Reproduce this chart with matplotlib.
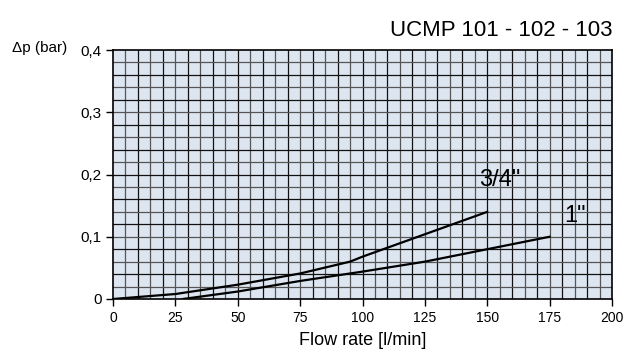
import matplotlib.pyplot as plt
import numpy as np

plt.rcParams['font.family'] = ['Liberation Sans', 'DejaVu Sans']

# curves
flow_34 = [0, 25, 50, 75, 95, 100, 125, 150]
dp_34 = [0, 0.008, 0.023, 0.041, 0.06, 0.068, 0.104, 0.14]
flow_1 = [28, 50, 75, 100, 125, 150, 175]
dp_1 = [0, 0.012, 0.029, 0.044, 0.06, 0.08, 0.1]

xticks = [0, 25, 50, 75, 100, 125, 150, 175, 200]
yticks = [0, 0.1, 0.2, 0.3, 0.4]
ylabels = ['0', '0,1', '0,2', '0,3', '0,4']

fig = plt.figure(figsize=(6.41, 3.56), dpi=100)
ax = fig.add_axes([113/641, 1 - 299/356, 499/641, 249/356])
ax.set_facecolor('#dde6f0')

# grid: every 5 l/min and every 0.02 bar
for i, gx in enumerate(np.arange(5, 200, 5)):
    ax.axvline(gx, color='#111111' if i % 2 else '#555555', lw=0.9, zorder=1)
for i, gy in enumerate(np.arange(0.02, 0.4, 0.02)):
    ax.axhline(gy, color='#111111' if i % 2 else '#555555', lw=0.9, zorder=1)

ax.plot(flow_34, dp_34, color='black', lw=1.6, zorder=3)
ax.plot(flow_1, dp_1, color='black', lw=1.6, zorder=3)
ax.text(155, 0.182, '3/4"', fontsize=17, ha='center', va='baseline', zorder=4)
ax.text(185, 0.124, '1"', fontsize=17, ha='center', va='baseline', zorder=4)

ax.set_xlim(0, 200)
ax.set_ylim(0, 0.4)
ax.set_xticks(xticks)
ax.set_yticks(yticks)
ax.set_yticklabels(ylabels)
ax.tick_params(direction='out', length=5, width=1, color='black')
ax.tick_params(axis='x', labelsize=10, pad=4)
ax.tick_params(axis='y', labelsize=11, pad=3)
for s in ax.spines.values():
    s.set_color('black')
    s.set_linewidth(1.2)

ax.set_xlabel('Flow rate [l/min]', fontsize=13, labelpad=5)
fig.text(12/641, 1 - 48/356, '\u0394p (bar)', fontsize=11, va='center', ha='left')
fig.text(612/641, 1 - 31/356, 'UCMP 101 - 102 - 103', fontsize=16, ha='right', va='center')

fig.savefig('out.png', dpi=100)
